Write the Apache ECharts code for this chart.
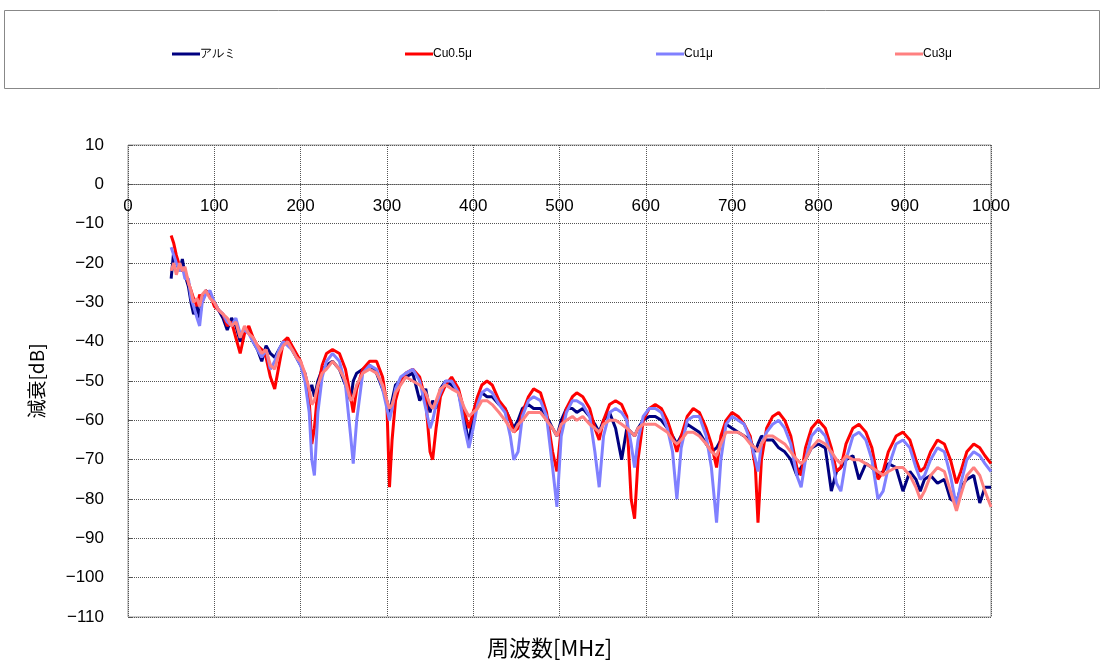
<!DOCTYPE html>
<html><head><meta charset="utf-8">
<script src="https://cdn.jsdelivr.net/npm/echarts@6/dist/echarts.min.js"></script>
<style>html,body{margin:0;padding:0;background:#fff}#c{width:1104px;height:662px}</style>
</head><body><div id="c"></div>
<script>
const seriesNames = ['アルミ', 'Cu0.5μ', 'Cu1μ', 'Cu3μ'];
const freq = [50,53,56,60,63,66,70,73,76,80,83,86,90,95,100,105,110,115,120,125,130,135,140,145,150,155,160,165,170,175,180,185,190,195,200,205,210,213,216,220,225,230,237,245,252,258,261,265,272,280,288,295,300,303,306,310,316,322,330,338,345,350,353,357,362,368,375,383,390,395,400,405,410,416,422,430,437,443,447,452,457,464,470,478,485,492,497,502,508,515,520,527,535,541,546,551,558,565,572,578,583,587,591,597,604,611,618,625,631,636,641,648,655,662,670,676,682,687,693,700,707,714,721,727,730,734,740,747,754,761,768,775,780,785,792,800,808,815,821,826,832,840,847,855,862,869,875,881,890,898,906,913,918,923,930,938,946,953,960,965,972,980,987,993,1000];
const alumi = [-24,-17,-20,-22,-19,-23,-26,-30,-33,-31,-34,-29,-27,-28,-30,-32,-34,-37,-34,-36,-40,-37,-37,-40,-42,-45,-41,-43,-44,-42,-40,-40,-42,-44,-46,-48,-53,-51,-54,-50,-47,-46,-45,-47,-51,-55,-50,-48,-47,-46,-48,-52,-55,-58,-55,-51,-50,-49,-48,-55,-52,-58,-55,-57,-52,-50,-51,-53,-60,-66,-58,-55,-53,-54,-54,-56,-57,-60,-62,-60,-57,-56,-57,-57,-59,-62,-64,-60,-57,-57,-58,-57,-59,-61,-63,-60,-58,-62,-70,-62,-63,-64,-62,-60,-59,-59,-60,-62,-64,-66,-64,-61,-62,-63,-66,-68,-67,-65,-61,-62,-63,-64,-65,-68,-66,-64,-65,-65,-67,-68,-70,-74,-72,-70,-67,-66,-67,-78,-73,-72,-70,-69,-75,-71,-72,-74,-73,-71,-72,-78,-73,-75,-78,-75,-74,-76,-75,-80,-81,-77,-75,-74,-81,-77,-77];
const cu05 = [-13,-15,-18,-21,-22,-22,-25,-27,-29,-31,-28,-30,-27,-28,-31,-32,-33,-36,-35,-39,-43,-38,-36,-39,-41,-42,-44,-49,-52,-46,-40,-39,-41,-43,-45,-49,-55,-66,-62,-52,-46,-43,-42,-43,-47,-54,-58,-52,-47,-45,-45,-49,-56,-77,-65,-55,-50,-48,-47,-49,-55,-68,-70,-62,-54,-51,-49,-52,-58,-62,-58,-54,-51,-50,-51,-55,-57,-60,-63,-62,-58,-54,-52,-53,-58,-68,-73,-62,-57,-54,-53,-54,-57,-62,-65,-60,-56,-55,-56,-59,-80,-85,-70,-60,-57,-56,-57,-60,-64,-68,-64,-59,-57,-58,-62,-66,-72,-64,-60,-58,-59,-61,-64,-72,-86,-70,-62,-59,-58,-60,-64,-72,-74,-67,-62,-60,-62,-67,-73,-72,-66,-62,-61,-63,-67,-75,-73,-68,-64,-63,-65,-70,-73,-72,-68,-65,-66,-70,-76,-73,-68,-66,-67,-69,-71];
const cu1 = [-16,-18,-20,-22,-21,-24,-24,-29,-31,-34,-36,-30,-28,-27,-30,-32,-33,-35,-36,-34,-38,-37,-38,-40,-42,-44,-42,-47,-45,-42,-40,-41,-42,-44,-46,-50,-58,-70,-74,-58,-49,-45,-43,-45,-51,-64,-71,-60,-48,-46,-47,-52,-57,-60,-57,-52,-49,-48,-47,-50,-57,-62,-60,-56,-53,-50,-50,-53,-62,-67,-62,-56,-53,-52,-53,-56,-58,-64,-70,-68,-59,-55,-54,-55,-59,-72,-82,-64,-58,-55,-55,-56,-59,-68,-77,-64,-58,-57,-58,-60,-66,-72,-65,-59,-57,-57,-58,-62,-68,-80,-67,-60,-59,-59,-64,-72,-86,-70,-61,-59,-60,-61,-65,-70,-73,-66,-63,-61,-60,-62,-66,-74,-77,-70,-64,-62,-64,-69,-76,-78,-70,-64,-63,-65,-70,-80,-78,-72,-66,-65,-67,-72,-75,-74,-70,-67,-68,-74,-82,-76,-70,-68,-69,-71,-73];
const cu3 = [-22,-20,-23,-20,-22,-21,-25,-27,-30,-29,-31,-28,-27,-29,-30,-32,-33,-34,-36,-35,-39,-36,-38,-39,-41,-43,-42,-46,-47,-43,-41,-40,-42,-44,-45,-48,-52,-56,-55,-51,-48,-47,-45,-47,-50,-55,-54,-51,-48,-47,-48,-51,-55,-57,-56,-53,-51,-49,-50,-51,-53,-56,-57,-55,-52,-51,-52,-53,-57,-59,-58,-57,-55,-55,-56,-58,-60,-62,-63,-61,-60,-58,-58,-58,-60,-62,-64,-61,-60,-59,-60,-59,-61,-62,-63,-61,-60,-60,-61,-62,-63,-64,-62,-61,-61,-61,-62,-63,-65,-66,-65,-63,-63,-64,-66,-68,-69,-66,-63,-63,-63,-64,-66,-67,-68,-66,-64,-64,-65,-66,-68,-70,-71,-70,-67,-65,-66,-68,-70,-71,-69,-70,-70,-71,-72,-73,-74,-73,-72,-72,-74,-77,-80,-78,-74,-72,-73,-78,-83,-79,-74,-72,-74,-78,-82];
const colors = ['#000080', '#ff0000', '#8080ff', '#ff8080'];

const valueSets = [alumi, cu05, cu1, cu3];
const chart = echarts.init(document.getElementById('c'), null, {renderer: 'canvas'});
const legendLefts = [167, 400, 651, 890];
const font = 'Liberation Sans, Arial, sans-serif';
chart.setOption({
  animation: false,
  backgroundColor: '#fff',
  graphic: [{type: 'rect', shape: {x: 4.5, y: 10.5, width: 1095, height: 78}, style: {fill: 'none', stroke: '#888', lineWidth: 1}, z: -1}],
  title: {text: '周波数[MHz]', left: 487, top: 637, textStyle: {fontSize: 22, fontWeight: 'normal', color: '#000', fontFamily: 'Noto Sans CJK JP'}, padding: 0},
  legend: seriesNames.map((n, i) => ({
    data: [n], left: legendLefts[i], top: 43, icon: 'rect', itemWidth: 28, itemHeight: 3, itemGap: 2,
    textStyle: {fontSize: 12, color: '#000', fontFamily: font, padding: [0, 0, 0, -5]}
  })),
  grid: {left: 128, right: 113, top: 145, bottom: 45, show: true, borderColor: '#999', borderWidth: 1, backgroundColor: 'transparent'},
  xAxis: {
    type: 'value', min: 0, max: 1000, interval: 100, position: 'bottom', offset: -433,
    axisLine: {show: true, onZero: false, lineStyle: {color: '#555', type: 'dotted'}},
    axisTick: {show: false},
    axisLabel: {fontSize: 17, color: '#000', fontFamily: font, margin: 14, formatter: v => String(v)},
    splitLine: {show: true, lineStyle: {color: '#555', type: 'dotted', width: 1}}
  },
  yAxis: {
    type: 'value', min: -110, max: 10, interval: 10,
    axisLine: {show: false},
    axisTick: {show: true, inside: true, length: 4, lineStyle: {color: '#555'}},
    axisLabel: {fontSize: 17, color: '#000', fontFamily: font, margin: 24, formatter: v => String(v).replace('-', '−')},
    splitLine: {show: true, lineStyle: {color: '#555', type: 'dotted', width: 1}},
    name: '減衰[dB]', nameLocation: 'middle', nameGap: 82, nameRotate: 90,
    nameTextStyle: {fontSize: 19, color: '#000', fontFamily: 'Noto Sans CJK JP'}
  },
  series: seriesNames.map((n, i) => ({
    name: n, type: 'line', showSymbol: false, symbol: 'none',
    data: freq.map((f, k) => [f, valueSets[i][k]]),
    lineStyle: {color: colors[i], width: 3}, itemStyle: {color: colors[i]}
  }))
});
</script></body></html>
